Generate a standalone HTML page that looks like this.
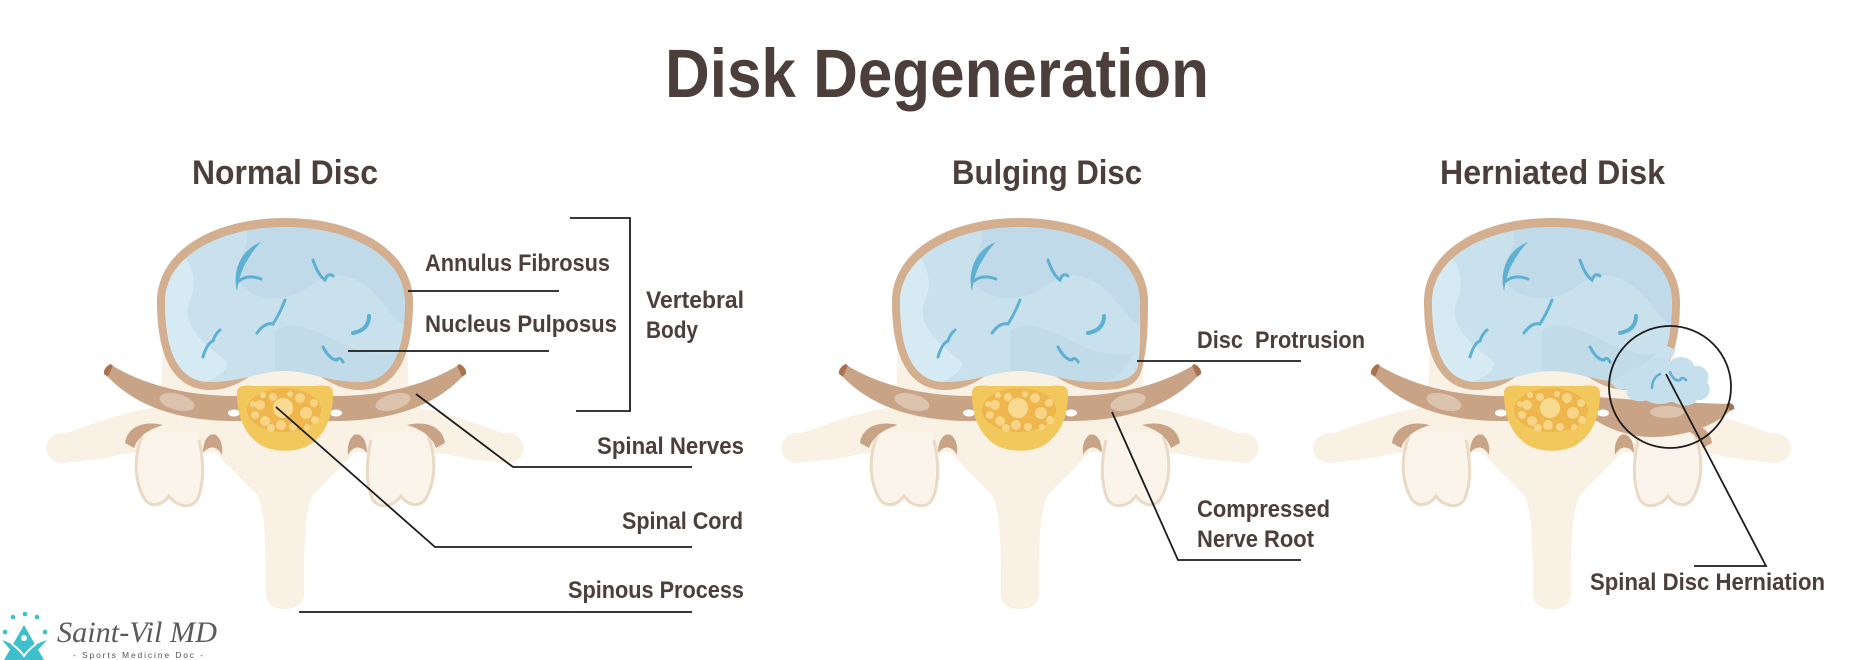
<!DOCTYPE html>
<html>
<head>
<meta charset="utf-8">
<style>
html,body{margin:0;padding:0;background:#fff;width:1874px;height:660px;overflow:hidden}
svg{display:block}
text{font-family:"Liberation Sans",Arial,sans-serif;font-weight:bold;fill:#4c3f3b}
</style>
</head>
<body>
<svg width="1874" height="660" viewBox="0 0 1874 660" xmlns="http://www.w3.org/2000/svg">
<defs>
  <clipPath id="ci">
    <path d="M 0 371 C 25 371 42 382 75 382 C 110 382 120 345 120 302 C 120 256 65 227 0 227 C -65 227 -120 256 -120 302 C -120 345 -110 382 -75 382 C -42 382 -25 371 0 371 Z"/>
  </clipPath>

  <!-- transverse process (left) -->
  <g id="tpL" fill="#faf1e5">
    <path d="M -60 402 C -100 404 -130 407 -150 411 C -180 419 -205 428 -220 434 L -222 462 C -200 462 -180 458 -160 454 C -140 451 -115 451 -90 452 L -60 452 Z"/>
    <ellipse cx="-222" cy="448" rx="17" ry="15"/>
  </g>
  <!-- facet lobe (left) -->
  <g id="lobeL">
    <path fill="#fbf4ea" d="M -142 432 C -152 455 -150 482 -141 498 C -135 508 -123 506 -116 496 C -108 507 -93 510 -87 498 C -80 480 -82 452 -88 432 Z"/>
    <path fill="none" stroke="#ead9c5" stroke-width="3" d="M -143 436 C -152 458 -150 482 -141 498 C -135 508 -123 506 -116 496 C -108 507 -93 510 -87 498 C -80 480 -82 458 -86 440"/>
    <path fill="#c9a385" d="M -160 443 C -158 428 -143 420 -122 425 C -138 430 -147 437 -151 448 Z"/>
    <path fill="#c9a385" d="M -82 453 C -82 440 -76 432 -69 435 C -64 439 -62 446 -63 455 C -67 447 -75 444 -82 453 Z"/>
  </g>

  <g id="bone">
    <path fill="#faf1e5" d="M -122 336 L 122 336 L 124 402 L -124 402 Z"/>
    <use href="#tpL"/>
    <use href="#tpL" transform="scale(-1,1)"/>
    <path fill="#faf1e5" d="M -95 420 L 95 420 C 75 450 50 472 28 495 C 20 510 19 540 19 595 C 19 614 -19 614 -19 595 C -19 540 -20 510 -28 495 C -50 472 -75 450 -95 420 Z"/>
    <use href="#lobeL"/>
    <use href="#lobeL" transform="scale(-1,1)"/>
  </g>

  <g id="bandL">
    <path fill="#c9a386" d="M -172 366 C -140 385 -100 395 -55 396 L 0 396 L 0 421 L -55 421 C -110 420 -150 405 -177 377 Z"/>
    <path fill="#ab7250" d="M -172 366 L -177 377 L -181 374 C -182 370 -178 365 -174 364 Z"/>
    <ellipse cx="-108" cy="402" rx="18" ry="8" fill="#dcc3ae" transform="rotate(15 -108 402)"/>
    <ellipse cx="-51" cy="413" rx="6" ry="3.5" fill="#fff"/>
  </g>

  <g id="cracks" fill="none" stroke="#5eb0d3" stroke-width="3" stroke-linecap="round">
    <path fill="#5eb0d3" stroke="none" d="M -24 242 C -45 250 -53 272 -48 291 C -46 279 -43 268 -38 261 C -34 254 -30 248 -24 242 Z"/>
    <path d="M -46 281 C -40 276 -32 276 -24 279"/>
    <path d="M 28 260 Q 33 275 40 280 Q 43 272 48 276"/>
    <path d="M -28 333 Q -20 322 -12 324 Q -5 313 0 300"/>
    <path d="M -82 357 Q -78 343 -72 341 Q -70 334 -65 330"/>
    <path d="M 84 316 Q 84 330 68 333" stroke-width="4"/>
    <path d="M 38 347 Q 45 360 52 360 Q 55 356 58 362"/>
  </g>

  <g id="patches" clip-path="url(#ci)">
    <path fill="#d6eaf3" d="M -125 250 C -95 245 -85 280 -95 300 C -105 325 -80 345 -60 360 C -50 370 -80 390 -125 390 Z"/>
    <path fill="#b9d6e6" opacity="0.55" d="M -40 225 C -30 245 -55 262 -45 282 C -35 300 -10 300 5 296 C 25 292 35 270 60 276 C 85 282 95 300 110 318 C 118 326 125 330 125 300 L 125 220 Z"/>
    <path fill="#b9d6e6" opacity="0.5" d="M -10 330 C 10 320 30 330 50 340 C 70 350 90 360 125 350 L 125 400 L -10 400 Z"/>
  </g>

  <g id="disc">
    <path fill="#d3ae8f" d="M 0 361 C 25 361 40 390 75 390 C 115 390 128 350 128 302 C 128 250 70 218 0 218 C -70 218 -128 250 -128 302 C -128 350 -115 390 -75 390 C -40 390 -25 361 0 361 Z"/>
    <path fill="#c9e1ed" d="M 0 371 C 25 371 42 382 75 382 C 110 382 120 345 120 302 C 120 256 65 227 0 227 C -65 227 -120 256 -120 302 C -120 345 -110 382 -75 382 C -42 382 -25 371 0 371 Z"/>
    <use href="#patches"/>
    <use href="#cracks"/>
  </g>

  <g id="discB">
    <path fill="#d3ae8f" d="M 0 361 C 25 361 40 390 78 390 C 104 390 116 386 121 372 C 127 352 128 330 128 302 C 128 250 70 218 0 218 C -70 218 -128 250 -128 302 C -128 350 -115 390 -75 390 C -40 390 -25 361 0 361 Z"/>
    <path fill="#c9e1ed" d="M 0 371 C 25 371 42 382 78 382 C 98 382 110 381 117 369 C 121 354 120 330 120 302 C 120 256 65 227 0 227 C -65 227 -120 256 -120 302 C -120 345 -110 382 -75 382 C -42 382 -25 371 0 371 Z"/>
    <use href="#patches"/>
    <use href="#cracks"/>
  </g>

  <g id="cord">
    <path fill="#f2c85d" d="M -48 393 C -48 385 -40 385 -30 386 L 30 386 C 40 385 48 385 48 393 C 48 415 42 432 26 444 C 12 453 -12 453 -26 444 C -42 432 -48 415 -48 393 Z"/>
    <ellipse cx="-1" cy="410" rx="37" ry="22" fill="#eeb64c"/>
    <g fill="#f7d486">
      <circle cx="-25" cy="405" r="5"/><circle cx="-30" cy="415" r="4"/><circle cx="-20" cy="421" r="5"/>
      <circle cx="-12" cy="397" r="4"/><circle cx="-14" cy="428" r="4"/><circle cx="-4" cy="425" r="5"/>
      <circle cx="8" cy="427" r="4"/><circle cx="15" cy="398" r="5"/><circle cx="21" cy="413" r="6"/>
      <circle cx="29" cy="403" r="4"/><circle cx="30" cy="420" r="4"/><circle cx="-32" cy="404" r="3"/>
      <circle cx="5" cy="394" r="3"/><circle cx="22" cy="427" r="3"/><circle cx="-22" cy="395" r="3"/>
      <circle cx="-2" cy="408" r="10" fill="#f8da90"/>
    </g>
  </g>
</defs>

<!-- Title -->
<text x="665" y="97" font-size="69" textLength="544" lengthAdjust="spacingAndGlyphs">Disk Degeneration</text>

<!-- Headings -->
<text x="192" y="184" font-size="34" textLength="186" lengthAdjust="spacingAndGlyphs">Normal Disc</text>
<text x="952" y="184" font-size="34" textLength="190" lengthAdjust="spacingAndGlyphs">Bulging Disc</text>
<text x="1440" y="184" font-size="34" textLength="225" lengthAdjust="spacingAndGlyphs">Herniated Disk</text>

<!-- Normal -->
<g transform="translate(285,0)">
  <use href="#bone"/>
  <use href="#bandL"/>
  <use href="#bandL" transform="scale(-1,1)"/>
  <use href="#disc"/>
  <use href="#cord"/>
</g>

<!-- Bulging -->
<g transform="translate(1020,0)">
  <use href="#bone"/>
  <use href="#bandL"/>
  <use href="#bandL" transform="scale(-1,1)"/>
  <use href="#discB"/>
  <use href="#cord"/>
</g>

<!-- Herniated -->
<g transform="translate(1552,0)">
  <use href="#bone"/>
  <use href="#bandL"/>
  <path fill="#c9a386" d="M 0 396 L 45 397 L 100 401 L 174 404 L 178 411 C 155 432 115 440 85 436 C 65 432 52 426 45 421 L 0 421 Z"/>
  <path fill="#ab7250" d="M 174 404 L 178 411 L 182 409 C 183 405 180 403 176 403 Z"/>
  <ellipse cx="115" cy="412" rx="17" ry="6" fill="#dcc3ae"/>
  <ellipse cx="51" cy="413" rx="6" ry="3.5" fill="#fff"/>
  <use href="#disc"/>
  <path fill="#c9e1ed" d="M 108 343 L 124 350 L 119 358 L 112 368 L 95 380 L 80 388 L 66 390 L 58 382 L 70 376 L 90 366 L 104 354 Z"/>
  <path fill="#c5dfec" d="M 70 380 C 72 370 85 366 92 368 C 96 358 110 356 118 362 C 124 354 140 356 142 366 C 152 364 160 374 155 382 C 162 390 155 402 145 400 C 140 408 125 406 120 401 C 112 406 98 404 95 400 C 85 404 72 398 75 390 C 68 388 68 383 70 380 Z"/>
  <g fill="none" stroke="#5eb0d3" stroke-width="2.5" stroke-linecap="round">
    <path d="M 100 388 Q 100 378 108 374"/>
    <path d="M 118 372 Q 122 382 128 380 Q 130 376 134 380"/>
  </g>
  <use href="#cord"/>
</g>

<!-- Leaders -->
<g fill="none" stroke="#1c1c1c" stroke-width="1.8">
  <path d="M 408 291 L 559 291"/>
  <path d="M 348 351 L 549 351"/>
  <path d="M 570 218 L 630 218 L 630 411 L 576 411"/>
  <path d="M 416 394 L 513 467 L 692 467"/>
  <path d="M 276 407 L 435 547 L 692 547"/>
  <path d="M 299 612 L 692 612"/>
  <path d="M 1137 361 L 1301 361"/>
  <path d="M 1112 412 L 1178 560 L 1301 560"/>
  <path d="M 1666 374 L 1766 566 L 1694 566"/>
  <circle cx="1670" cy="387" r="61"/>
</g>

<!-- Labels -->
<text x="425" y="271" font-size="24" textLength="185" lengthAdjust="spacingAndGlyphs">Annulus Fibrosus</text>
<text x="425" y="332" font-size="24" textLength="192" lengthAdjust="spacingAndGlyphs">Nucleus Pulposus</text>
<text x="646" y="308" font-size="24" textLength="98" lengthAdjust="spacingAndGlyphs">Vertebral</text>
<text x="646" y="338" font-size="24" textLength="52" lengthAdjust="spacingAndGlyphs">Body</text>
<text x="597" y="454" font-size="24" textLength="147" lengthAdjust="spacingAndGlyphs">Spinal Nerves</text>
<text x="622" y="529" font-size="24" textLength="121" lengthAdjust="spacingAndGlyphs">Spinal Cord</text>
<text x="568" y="598" font-size="24" textLength="176" lengthAdjust="spacingAndGlyphs">Spinous Process</text>
<text x="1197" y="348" font-size="24" textLength="168" lengthAdjust="spacingAndGlyphs">Disc&#160; Protrusion</text>
<text x="1197" y="517" font-size="24" textLength="133" lengthAdjust="spacingAndGlyphs">Compressed</text>
<text x="1197" y="547" font-size="24" textLength="117" lengthAdjust="spacingAndGlyphs">Nerve Root</text>
<text x="1590" y="590" font-size="24" textLength="235" lengthAdjust="spacingAndGlyphs">Spinal Disc Herniation</text>

<!-- Logo -->
<g fill="#3dbfcc">
  <circle cx="13" cy="617" r="2.3"/><circle cx="25" cy="614" r="2.3"/><circle cx="37" cy="617" r="2.3"/>
  <circle cx="5" cy="632" r="2.3"/><circle cx="45" cy="632" r="2.3"/>
  <path d="M 24 625 L 44 660 L 4 660 Z"/>
  <path d="M 2 640 Q 14 644 22 652 L 24 658 L 26 652 Q 34 644 47 640 Q 36 652 28 660 L 20 660 Q 12 652 2 640 Z"/>
</g>
<circle cx="24" cy="638" r="3" fill="#fff"/>
<path d="M 12 644 Q 20 650 24 656 Q 28 650 36 644" fill="none" stroke="#fff" stroke-width="2"/>
<text x="57" y="642" font-size="30" textLength="160" lengthAdjust="spacingAndGlyphs" style="font-family:'Liberation Serif',serif;font-style:italic;font-weight:normal;fill:#5a5a5a">Saint-Vil MD</text>
<text x="73" y="658" font-size="8.5" textLength="130" lengthAdjust="spacing" style="font-weight:normal;fill:#555">- Sports Medicine Doc -</text>
</svg>
</body>
</html>
